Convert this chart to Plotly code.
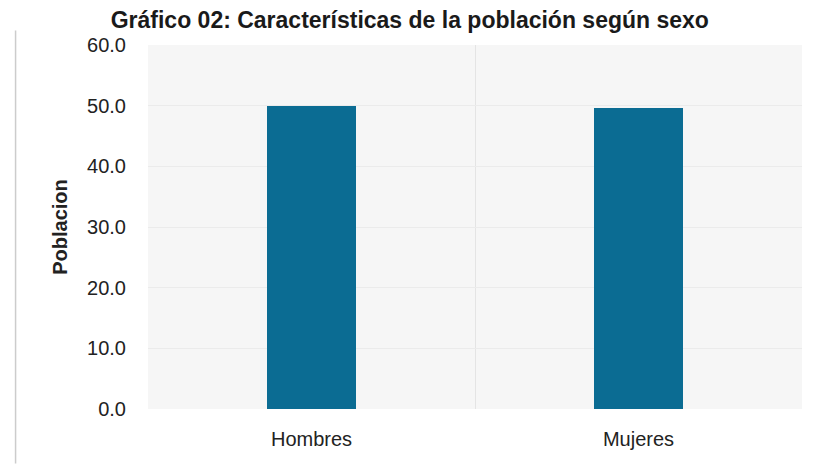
import plotly.graph_objects as go

categories = ["Hombres", "Mujeres"]
values = [50.0, 49.6]
y_ticks = [0, 10, 20, 30, 40, 50, 60]
y_tick_labels = ["0.0", "10.0", "20.0", "30.0", "40.0", "50.0", "60.0"]

fig = go.Figure(go.Bar(
    x=categories, y=values, width=0.275,
    marker=dict(color="#0b6c93", line=dict(width=0)),
))

font_fam = "Liberation Sans, Arial, sans-serif"
fig.update_layout(
    width=815, height=466,
    margin=dict(l=140, r=21, t=37, b=65, autoexpand=False),
    paper_bgcolor="white", plot_bgcolor="#f6f6f6",
    font=dict(family=font_fam, color="#222222"),
    title=dict(text="<b>Gráfico 02: Características de la población según sexo</b>",
               x=0.493, xanchor="center", y=0.974, yanchor="middle", yref="container",
               font=dict(size=23, color="#1a1a1a")),
    showlegend=False,
    bargap=0,
)
fig.update_xaxes(showgrid=True, gridcolor="#e4e4e4", tickson="boundaries", tickfont=dict(size=20),
                 ticks="", ticklabelstandoff=16,
                 showline=False, zeroline=False, automargin=False)
fig.update_yaxes(range=[0, 60], tickvals=y_ticks, ticktext=y_tick_labels,
                 tickfont=dict(size=20), gridcolor="#ebebeb", zeroline=False,
                 ticks="outside", ticklen=17, tickcolor="rgba(0,0,0,0)", automargin=False,
                 title=dict(text="<b>Poblacion</b>", font=dict(size=20), standoff=14))
fig.add_shape(type="line", xref="paper", yref="paper", x0=-0.2025, x1=-0.2025, y0=-0.15, y1=1.04,
              line=dict(color="#cccccc", width=1.5))
fig.write_html("out.html")
